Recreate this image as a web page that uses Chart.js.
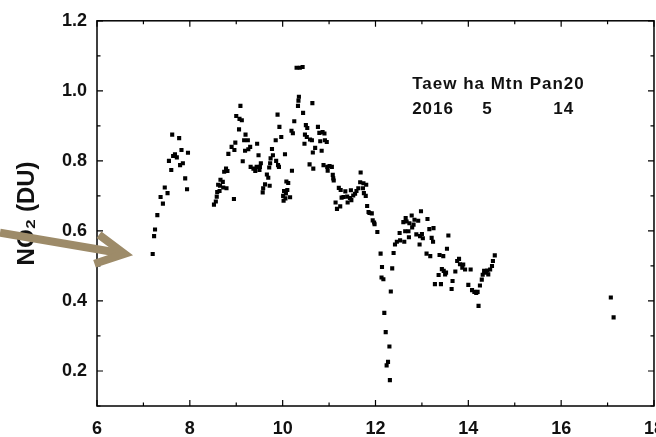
<!DOCTYPE html>
<html>
<head>
<meta charset="utf-8">
<script src="https://cdn.jsdelivr.net/npm/chart.js@4.4.1/dist/chart.umd.min.js"></script>
<style>
html, body { margin: 0; padding: 0; background: #fff; overflow: hidden; }
#wrap { position: relative; width: 676px; height: 437px; }
</style>
</head>
<body>
<div id="wrap"><canvas id="grafNo2"></canvas></div>
<script>
// hour of day (x) and NO2 column (DU)
const hours = [
  7.20, 7.23, 7.25, 7.30, 7.37, 7.42, 7.46, 7.52, 7.55, 7.60,
  7.62, 7.64, 7.68, 7.72, 7.77, 7.79, 7.82, 7.85, 7.90, 7.94,
  7.96,
  8.52, 8.56, 8.58, 8.59, 8.61, 8.64, 8.65, 8.66, 8.71, 8.72,
  8.74, 8.78, 8.81, 8.79, 8.83, 8.90, 8.96, 8.95, 8.98, 9.00,
  9.07, 9.09, 9.12, 9.06, 9.14, 9.17, 9.19, 9.20, 9.25, 9.26,
  9.30, 9.31, 9.37, 9.41, 9.44, 9.45, 9.48, 9.50, 9.51, 9.53,
  9.57, 9.58, 9.62, 9.66, 9.69, 9.71, 9.73, 9.72, 9.74, 9.77,
  9.79, 9.86, 9.85, 9.89, 9.90, 9.92, 9.93, 9.97, 10.01, 10.02,
  10.03, 10.05, 10.06, 10.07, 10.08, 10.10, 10.12, 10.16, 10.19, 10.20,
  10.22, 10.25, 10.30, 10.37, 10.43, 10.33, 10.34, 10.35, 10.44, 10.48,
  10.47, 10.50, 10.52, 10.53, 10.58, 10.59, 10.63, 10.64, 10.65, 10.66,
  10.70, 10.76, 10.79, 10.81, 10.84, 10.86, 10.88, 10.90, 10.91, 10.95,
  10.96, 10.97, 11.01, 11.06, 11.08, 11.09, 11.10, 11.14, 11.17, 11.21,
  11.24, 11.25, 11.27, 11.31, 11.35, 11.39, 11.40, 11.45, 11.47, 11.48,
  11.52, 11.56, 11.59, 11.63, 11.68, 11.67, 11.74, 11.80, 11.73, 11.75,
  11.79, 11.82, 11.85, 11.87, 11.92, 11.94, 11.97, 11.98, 12.04, 12.11,
  12.14, 12.13, 12.17, 12.19, 12.22, 12.24, 12.27, 12.30, 12.31, 12.33,
  12.36, 12.39, 12.42, 12.46, 12.52, 12.53, 12.60, 12.62, 12.64, 12.65,
  12.67, 12.71, 12.72, 12.73, 12.78, 12.79, 12.82, 12.84, 12.88, 12.92,
  12.95, 12.96, 12.98, 13.00, 13.02, 13.10, 13.12, 13.16, 13.18, 13.21,
  13.24, 13.25, 13.28, 13.36, 13.38, 13.41, 13.43, 13.46, 13.47, 13.50,
  13.52, 13.54, 13.57, 13.64, 13.66, 13.72, 13.76, 13.80, 13.82, 13.87,
  13.89, 13.93, 14.00, 14.05, 14.08, 14.13, 14.17, 14.20, 14.22, 14.25,
  14.29, 14.31, 14.34, 14.38, 14.41, 14.43, 14.47, 14.51, 14.53, 14.57,
  17.07, 17.13
];
const no2 = [
  0.534, 0.585, 0.604, 0.645, 0.697, 0.678, 0.724, 0.708, 0.800, 0.774,
  0.875, 0.814, 0.819, 0.810, 0.865, 0.788, 0.831, 0.793, 0.750, 0.719,
  0.823,
  0.675, 0.684, 0.698, 0.711, 0.732, 0.714, 0.729, 0.746, 0.740, 0.724,
  0.769, 0.778, 0.771, 0.722, 0.820, 0.840, 0.831, 0.691, 0.852, 0.928,
  0.920, 0.957, 0.916, 0.890, 0.799, 0.859, 0.829, 0.875, 0.859, 0.833,
  0.840, 0.783, 0.778, 0.771, 0.783, 0.849, 0.816, 0.774, 0.783, 0.793,
  0.710, 0.722, 0.733, 0.761, 0.752, 0.781, 0.793, 0.729, 0.807, 0.834,
  0.816, 0.800, 0.859, 0.932, 0.788, 0.783, 0.897, 0.868, 0.700, 0.686,
  0.714, 0.819, 0.693, 0.707, 0.741, 0.717, 0.737, 0.696, 0.886, 0.772,
  0.879, 0.913, 1.066, 1.066, 1.068, 0.957, 0.972, 0.983, 0.937, 0.875,
  0.849, 0.902, 0.868, 0.894, 0.790, 0.861, 0.859, 0.965, 0.824, 0.778,
  0.837, 0.897, 0.880, 0.856, 0.829, 0.882, 0.788, 0.878, 0.859, 0.854,
  0.783, 0.772, 0.785, 0.783, 0.760, 0.750, 0.744, 0.681, 0.663, 0.723,
  0.670, 0.717, 0.695, 0.697, 0.713, 0.698, 0.681, 0.694, 0.716, 0.688,
  0.701, 0.706, 0.714, 0.722, 0.767, 0.739, 0.736, 0.732, 0.722, 0.708,
  0.700, 0.671, 0.654, 0.651, 0.650, 0.630, 0.624, 0.619, 0.597, 0.535,
  0.497, 0.467, 0.462, 0.366, 0.311, 0.216, 0.226, 0.270, 0.174, 0.427,
  0.493, 0.537, 0.561, 0.569, 0.594, 0.573, 0.625, 0.569, 0.599, 0.637,
  0.627, 0.599, 0.582, 0.622, 0.644, 0.610, 0.618, 0.632, 0.590, 0.629,
  0.561, 0.585, 0.656, 0.591, 0.579, 0.535, 0.634, 0.605, 0.528, 0.580,
  0.569, 0.608, 0.448, 0.474, 0.531, 0.448, 0.491, 0.528, 0.486, 0.476,
  0.481, 0.549, 0.587, 0.434, 0.457, 0.484, 0.514, 0.520, 0.505, 0.495,
  0.504, 0.490, 0.446, 0.490, 0.431, 0.426, 0.423, 0.426, 0.386, 0.444,
  0.461, 0.475, 0.486, 0.481, 0.487, 0.476, 0.490, 0.500, 0.514, 0.530,
  0.410, 0.353
];

const xTicks = [6, 8, 10, 12, 14, 16, 18];
const xMinor = [7, 9, 11, 13, 15, 17];
const yTicks = [0.2, 0.4, 0.6, 0.8, 1.0, 1.2];
const yMinor = [0.1, 0.3, 0.5, 0.7, 0.9, 1.1];

const siteLine = 'Taew ha Mtn Pan20';
const dateParts = ['2016', '5', '14'];

const boldFont = '"Liberation Sans", Arial, sans-serif';

// frame box + inward ticks on all four sides
const okvir = {
    id: 'okvir',
    afterDatasetsDraw(chart) {
        const { ctx, chartArea: a, scales: { x, y } } = chart;
        ctx.save();
        ctx.strokeStyle = '#000';
        ctx.lineWidth = 1.5;
        ctx.strokeRect(a.left, a.top, a.right - a.left, a.bottom - a.top);
        ctx.lineWidth = 1.2;
        ctx.beginPath();
        const xMark = (v, len) => {
            const px = x.getPixelForValue(v);
            ctx.moveTo(px, a.bottom); ctx.lineTo(px, a.bottom - len);
            ctx.moveTo(px, a.top); ctx.lineTo(px, a.top + len);
        };
        const yMark = (v, len) => {
            const py = y.getPixelForValue(v);
            ctx.moveTo(a.left, py); ctx.lineTo(a.left + len, py);
            ctx.moveTo(a.right, py); ctx.lineTo(a.right - len, py);
        };
        xTicks.forEach(v => xMark(v, 6));
        xMinor.forEach(v => xMark(v, 3.5));
        yTicks.forEach(v => yMark(v, 6));
        yMinor.forEach(v => yMark(v, 3.5));
        ctx.stroke();
        ctx.restore();
    },
    afterDraw(chart) {
        const { ctx, chartArea: a, scales: { x, y } } = chart;
        ctx.save();
        // site / date note
        ctx.fillStyle = '#111';
        ctx.font = 'bold 17px ' + boldFont;
        ctx.letterSpacing = '1px';
        ctx.textBaseline = 'alphabetic';
        ctx.fillText(siteLine, x.getPixelForValue(12.79), y.getPixelForValue(1.004));
        ctx.fillText(dateParts[0], x.getPixelForValue(12.79), y.getPixelForValue(0.933));
        ctx.fillText(dateParts[1], x.getPixelForValue(14.30), y.getPixelForValue(0.933));
        ctx.fillText(dateParts[2], x.getPixelForValue(15.83), y.getPixelForValue(0.933));
        ctx.letterSpacing = '0px';

        // tan arrow pointing at the first point
        const tipX = a.left + 27.5, tipY = a.top + 233;
        ctx.strokeStyle = '#9d8b69';
        ctx.lineWidth = 8;
        ctx.lineCap = 'butt';
        ctx.lineJoin = 'miter';
        ctx.beginPath();
        ctx.moveTo(0, a.top + 212);
        ctx.lineTo(tipX - 2, tipY - 0.3);
        ctx.stroke();
        ctx.beginPath();
        ctx.moveTo(tipX - 25.5, tipY - 19);
        ctx.lineTo(tipX, tipY);
        ctx.lineTo(tipX - 30, tipY + 10);
        ctx.stroke();
        ctx.restore();
    }
};

const ctx = document.getElementById('grafNo2').getContext('2d');
new Chart(ctx, {
    type: 'scatter',
    data: {
        datasets: [{
            data: hours.map((h, i) => ({ x: h, y: no2[i] })),
            backgroundColor: '#000',
            borderWidth: 0,
            pointStyle: 'rect',
            pointRadius: 2.9,
            pointHoverRadius: 2.9
        }]
    },
    options: {
        responsive: true,
        maintainAspectRatio: false,
        animation: false,
        events: [],
        layout: { padding: { left: 0, top: 14, right: 0, bottom: 0 } },
        plugins: { legend: { display: false }, tooltip: { enabled: false } },
        scales: {
            x: {
                type: 'linear',
                min: 6,
                max: 18,
                afterBuildTicks: s => { s.ticks = xTicks.map(v => ({ value: v })); },
                afterFit: s => { s.height = 31; },
                ticks: {
                    color: '#111',
                    padding: 12,
                    maxRotation: 0,
                    font: { family: boldFont, size: 18, weight: 'bold' },
                    callback: v => String(v)
                },
                grid: { display: false, drawTicks: false },
                border: { display: false }
            },
            y: {
                type: 'linear',
                min: 0.1,
                max: 1.2,
                afterBuildTicks: s => { s.ticks = yTicks.map(v => ({ value: v })); },
                afterFit: s => { s.width = 97; },
                ticks: {
                    color: '#111',
                    padding: 10,
                    font: { family: boldFont, size: 18, weight: 'bold' },
                    callback: v => v.toFixed(1)
                },
                grid: { display: false, drawTicks: false },
                border: { display: false },
                title: {
                    display: true,
                    text: 'NO₂ (DU)',
                    color: '#111',
                    font: { family: boldFont, size: 24, weight: 'bold' },
                    padding: { top: 13, bottom: 10 }
                }
            }
        }
    },
    plugins: [okvir]
});
</script>
</body>
</html>
